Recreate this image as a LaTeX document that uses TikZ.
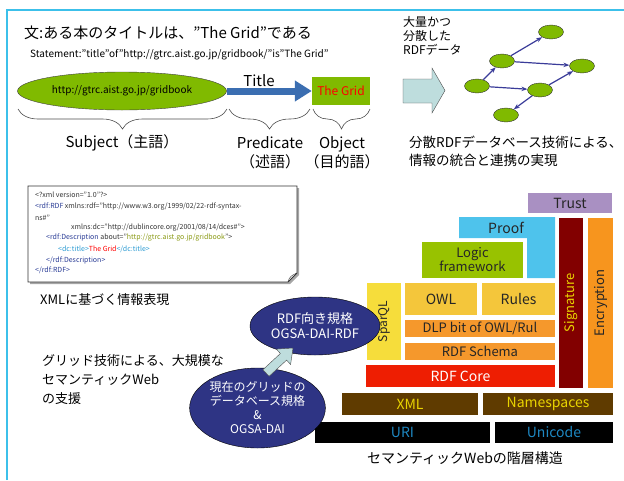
\documentclass[tikz,border=0pt]{standalone}
\usepackage{fontspec}
\setmainfont{Noto Sans CJK JP}
\usetikzlibrary{shapes.geometric,arrows.meta,decorations.pathreplacing}

\definecolor{framecyan}{HTML}{3CC0EA}
\definecolor{leafgreen}{HTML}{80BA00}
\definecolor{predblue}{HTML}{3B6EB1}
\definecolor{edgeblue}{HTML}{3A3C99}
\definecolor{paleteal}{HTML}{BEDDDD}
\definecolor{navy}{HTML}{2E3484}
\definecolor{xblue}{HTML}{2A3C96}
\definecolor{xcyan}{HTML}{2B9BD3}
\definecolor{xolive}{HTML}{8A9A14}
\definecolor{trustc}{HTML}{A990C2}
\definecolor{proofc}{HTML}{4EC3EC}
\definecolor{logicc}{HTML}{98C200}
\definecolor{sparqlc}{HTML}{F6DD3B}
\definecolor{owlc}{HTML}{F4C63B}
\definecolor{dlpc}{HTML}{F5982C}
\definecolor{corec}{HTML}{EE1E02}
\definecolor{signc}{HTML}{820000}
\definecolor{encc}{HTML}{F7951E}
\definecolor{xmlc}{HTML}{5F3B00}
\definecolor{yelltext}{HTML}{E9D400}
\definecolor{uritext}{HTML}{1E88C2}

\begin{document}
\begin{tikzpicture}[x=1pt,y=-1pt,
  fs/.style 2 args={font=\fontsize{#1}{#2}\selectfont},
  lyr/.style 2 args={minimum width=#1pt,minimum height=#2pt,inner sep=0pt,text=black!85},
  gnode/.style={ellipse,draw=black!80,fill=leafgreen,minimum width=25pt,minimum height=14pt,inner sep=0pt},
  navyell/.style={ellipse,draw=black,fill=navy,text=white,inner sep=0pt,align=center},
  curly/.style={decorate,decoration={brace,mirror,amplitude=20pt},draw=black!70,line width=0.6pt},
  xmlline/.style={anchor=west,inner sep=0pt,fs={7}{8},text=black!80}]
\useasboundingbox (0,0) rectangle (624,480);
\draw[framecyan,line width=2pt] (7,480) -- (7,10) -- (624,10);

% statement
\node[fs={15}{18},anchor=west,inner sep=0pt] (stmt) at (24,33) {文:ある本のタイトルは、”The Grid”である};
\node[fs={10}{12},anchor=west,inner sep=0pt] (stmten) at (30,55) {Statement:"title"of"http://gtrc.aist.go.jp/gridbook/"is"The Grid"};
\node[ellipse,draw=black!75,fill=leafgreen,minimum width=209pt,minimum height=38pt,inner sep=0pt,fs={10}{12}] (subj) at (122,91) {http://gtrc.aist.go.jp/gridbook};
\node[fill=leafgreen,minimum width=58pt,minimum height=28pt,inner sep=0pt,text=red,fs={12}{14}] (obj) at (341,91) {The Grid};
\node[fs={15}{18}] (pred) at (259,81) {Title};
\draw[predblue,line width=7pt,-{Triangle[length=17pt,width=20pt]}] (subj) -- (obj);

% braces
\coordinate (sl) at (18,109);
\coordinate (sr) at (227,109);
\coordinate (pl) at (229,109);
\coordinate (pr) at (310,109);
\coordinate (ol) at (313,109);
\coordinate (or) at (370,109);
\draw[curly] (sl) -- (sr);
\draw[curly] (pl) -- (pr);
\draw[curly] (ol) -- (or);
\node[fs={15}{19}] (subjlbl) at (122,143) {Subject（主語）};
\node[fs={15}{19},align=center,anchor=north] (predlbl) at (270,133) {Predicate\\（述語）};
\node[fs={15}{19},align=center,anchor=north] (objlbl) at (342,133) {Object\\（目的語）};

% distributed data
\node[fs={12}{14},align=left,anchor=north west,inner sep=0pt] (bulk) at (403,16) {大量かつ\\分散した\\RDFデータ};
\draw[black!70,fill=paleteal] (403,79) -- (432,79) -- (432,68) -- (445,90.5) -- (432,113) -- (432,103) -- (403,103) -- cycle;
\node[gnode] (g1) at (551,32) {};
\node[gnode] (g2) at (502,61) {};
\node[gnode] (g3) at (582,66) {};
\node[gnode] (g4) at (477,86) {};
\node[gnode] (g5) at (540,90) {};
\node[gnode] (g6) at (506,115) {};
\path[edgeblue,line width=1.2pt,-{Stealth[length=6pt]}]
(g2) edge (g1)
(g4) edge (g2)
(g2) edge (g3)
(g4) edge (g5)
(g5) edge (g3)
(g5) edge (g6);
\node[fs={13.5}{18},align=left,anchor=north west,inner sep=0pt] (distlbl) at (409,136) {分散RDFデータベース技術による、\\情報の統合と連携の実現};

% xml listing
\fill[black!35] (30,188) -- (299,188) -- (299,275) -- (290,284) -- (30,284) -- cycle;
\draw[black!80,fill=white,line width=0.8pt] (28,186) -- (297,186) -- (297,273) -- (288,282) -- (28,282) -- cycle;
\draw[black!80] (288,282) .. controls (289,277) and (292,275) .. (297,273);
\node[xmlline] (x1) at (35,195) {<?xml version="1.0"?>};
\node[xmlline] (x2) at (35,207) {{\color{xblue}<rdf:RDF} xmlns:rdf="http://www.w3.org/1999/02/22-rdf-syntax-};
\node[xmlline] (x3) at (35,218) {ns\#"};
\node[xmlline] (x4) at (71,228) {xmlns:dc="http://dublincore.org/2001/08/14/dces\#">};
\node[xmlline] (x5) at (46,238) {{\color{xblue}<rdf:Description} about="{\color{xolive}http://gtrc.aist.go.jp/gridbook}">};
\node[xmlline] (x6) at (58,249) {{\color{xcyan}<dc:title>}{\color{red}The Grid}{\color{xcyan}</dc:title>}};
\node[xmlline] (x7) at (46,260) {{\color{xblue}</rdf:Description>}};
\node[xmlline] (x8) at (35,270) {{\color{xblue}</rdf:RDF>}};
\node[fs={13}{16},anchor=west,inner sep=0pt] (xmllbl) at (40,300) {XMLに基づく情報表現};
\node[fs={13}{19},align=left,anchor=north west,inner sep=0pt] (gridlbl) at (42,354) {グリッド技術による、大規模な\\セマンティックWeb\\の支援};

% semantic web layers
\node[lyr={84}{20},fill=trustc,fs={14}{16}] (trust) at (570,203) {Trust};
\fill[proofc] (459,217) -- (555,217) -- (555,278) -- (527,278) -- (527,238) -- (459,238) -- cycle;
\node[fs={14}{16},text=black!85,inner sep=0pt] (proof) at (506,227.5) {Proof};
\node[lyr={101}{36},fill=logicc,fs={13}{14},align=center] (logic) at (472.5,260) {Logic\\framework};
\node[lyr={77}{34},fill=sparqlc,fs={12}{14},rotate=90] (sparql) at (384,321.5) {SparQL};
\node[lyr={72}{32},fill=owlc,fs={14}{16}] (owl) at (441,299) {OWL};
\node[lyr={73}{32},fill=owlc,fs={14}{16}] (rules) at (518.5,299) {Rules};
\node[lyr={150}{17},fill=dlpc,fs={13}{15}] (dlp) at (480,328.5) {DLP bit of OWL/Rul};
\node[lyr={150}{17},fill=dlpc,fs={13}{15}] (schema) at (480,351.5) {RDF Schema};
\node[lyr={189}{22},fill=corec,text=white,fs={14}{16}] (core) at (460.5,376) {RDF Core};
\node[lyr={170}{24},fill=signc,text=yelltext,fs={13}{15},rotate=90] (sign) at (571,303) {Signature};
\node[lyr={170}{25},fill=encc,fs={13}{15},rotate=90] (encr) at (600.5,303) {Encryption};
\node[lyr={136}{22},fill=xmlc,text=yelltext,fs={14}{16}] (xml) at (410,404) {XML};
\node[lyr={130}{22},fill=xmlc,text=yelltext,fs={14}{16}] (ns) at (548,404) {Namespaces};
\node[lyr={175}{21},fill=black,text=uritext,fs={14}{16}] (uri) at (402.5,432.5) {URI};
\node[lyr={118}{21},fill=black,text=uritext,fs={14}{16}] (unicode) at (554,432.5) {Unicode};
\node[fs={14}{16}] (stacklbl) at (465,458) {セマンティックWebの階層構造};

% grid support
\node[navyell,minimum width=130pt,minimum height=58pt,fs={13}{15}] (ogsardf) at (315,326) {RDF向き規格\\OGSA-DAI-RDF};
\node[navyell,minimum width=121pt,minimum height=80pt,fs={12}{14}] (ogsa) at (257.5,408) {現在のグリッドの\\データベース規格\\\&\\OGSA-DAI};
\draw[black!70,fill=paleteal] (262.9,369.7) -- (280.4,353.5) -- (276.4,349.1) -- (293,348) -- (290.6,364.5) -- (286.6,360.1) -- (269.1,376.3) -- cycle;

\end{tikzpicture}
\end{document}
